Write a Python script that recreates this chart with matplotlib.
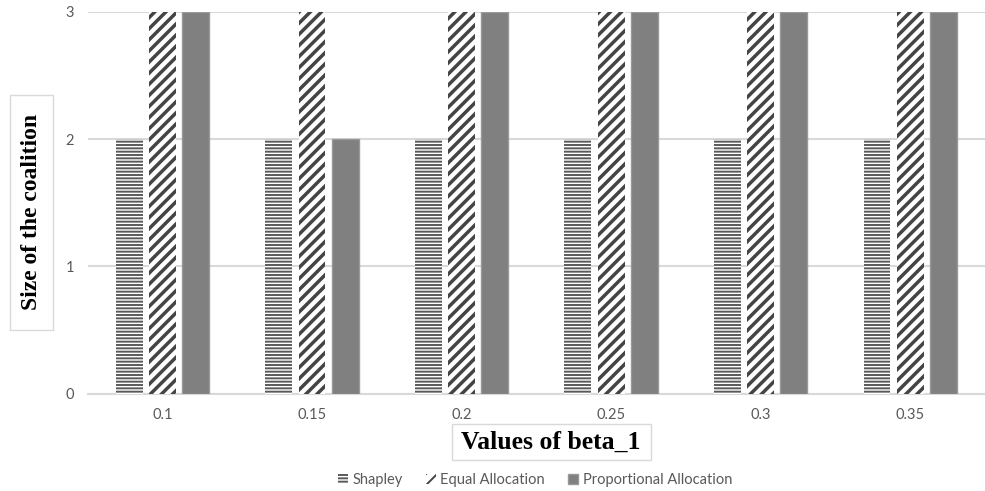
import numpy as np
import matplotlib
matplotlib.use('Agg')
from matplotlib import pyplot as plt
from matplotlib.patches import Rectangle

betas = ['0.1', '0.15', '0.2', '0.25', '0.3', '0.35']
shapley = [2, 2, 2, 2, 2, 2]
equal_alloc = [3, 3, 3, 3, 3, 3]
prop_alloc = [3, 2, 3, 3, 3, 3]

TICKFONT = 'Lato'
GRID = '#d9d9d9'

fig = plt.figure(figsize=(9.85, 4.91), dpi=100)
ax = fig.add_axes([0.089, 0.198, 0.911, 0.778])

x = np.arange(len(betas))
w = 0.18
off = 0.222

plt.rcParams['hatch.linewidth'] = 1.4
ax.bar(x - off, shapley, w, color='white', edgecolor='#5a5a5a', hatch='-----', linewidth=0, label='Shapley', zorder=3)
eq = ax.bar(x, equal_alloc, w, color='white', edgecolor='#444444', hatch='///', linewidth=0, label='Equal Allocation', zorder=3)
ax.bar(x + off, prop_alloc, w, color='#808080', edgecolor='#999999', linewidth=1, label='Proportional Allocation', zorder=3)

# thicker stripes on the diagonal hatch
for p in eq.patches:
    if hasattr(p, 'set_hatch_linewidth'):
        p.set_hatch_linewidth(2.5)

ax.set_xlim(-0.5, len(betas) - 0.5)
ax.set_ylim(0, 3)
ax.set_yticks([0, 1, 2, 3])
ax.set_xticks(x)
ax.set_xticklabels(betas)
ax.tick_params(length=0, labelsize=10.5, labelcolor='#595959', pad=10)
for lab in ax.get_xticklabels() + ax.get_yticklabels():
    lab.set_fontfamily(TICKFONT)
ax.yaxis.grid(True, color=GRID, linewidth=1.5, zorder=0)
for s in ['top', 'right', 'left']:
    ax.spines[s].set_visible(False)
ax.spines['bottom'].set_color(GRID)
ax.spines['bottom'].set_linewidth(1.5)

# boxed axis titles
fig.patches.append(Rectangle((452 / 985, 1 - 460 / 491), 199 / 985, 36 / 491, transform=fig.transFigure,
                             facecolor='white', edgecolor=GRID, linewidth=1))
fig.text(551 / 985, 1 - 442 / 491, 'Values of beta_1', ha='center', va='center',
         family='Liberation Serif', weight='bold', fontsize=18.5)
fig.patches.append(Rectangle((10 / 985, 1 - 330 / 491), 43 / 985, 235 / 491, transform=fig.transFigure,
                             facecolor='white', edgecolor=GRID, linewidth=1))
fig.text(32 / 985, 1 - 212 / 491, 'Size of the coalition', ha='center', va='center', rotation=90,
         family='Liberation Serif', weight='bold', fontsize=17)

leg = fig.legend(loc='center', bbox_to_anchor=(0.543, 1 - 480 / 491), ncol=3, frameon=False,
                 handlelength=0.7, handleheight=0.7, handletextpad=0.3, columnspacing=1.6,
                 prop={'family': TICKFONT, 'size': 10.5})
for t in leg.get_texts():
    t.set_color('#595959')

fig.savefig('out.png', dpi=100)
